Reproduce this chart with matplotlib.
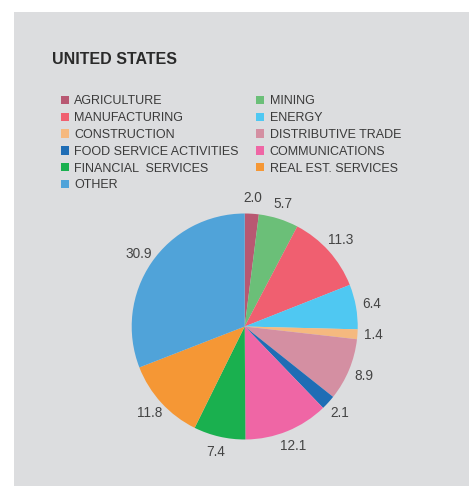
import matplotlib
matplotlib.use("Agg")
import matplotlib.pyplot as plt
from matplotlib.patches import Rectangle, Patch

plt.rcParams['font.family'] = ['Liberation Sans', 'DejaVu Sans']

# Data
sectors = ["AGRICULTURE", "MINING", "MANUFACTURING", "ENERGY", "CONSTRUCTION",
           "DISTRIBUTIVE TRADE", "FOOD SERVICE ACTIVITIES", "COMMUNICATIONS",
           "FINANCIAL  SERVICES", "REAL EST. SERVICES", "OTHER"]
shares = [2.0, 5.7, 11.3, 6.4, 1.4, 8.9, 2.1, 12.1, 7.4, 11.8, 30.9]
colors = ["#b85872", "#6bbf78", "#f05f70", "#4fc8f2", "#f5b97f",
          "#d48fa2", "#1f6db5", "#ef66a5", "#1ab04f", "#f59735", "#50a3d9"]

W, H = 469, 486
fig = plt.figure(figsize=(W / 100, H / 100), dpi=100)
fig.patch.set_facecolor("white")

# grey panel
fig.patches.append(Rectangle((14 / W, 0), 1 - 14 / W, 474 / H,
                             transform=fig.transFigure, facecolor="#dcdddf",
                             edgecolor="none", zorder=-5))

# pie axes, centre at (244.7, 326.5) px from top, radius 113 px
r = 113
cx, cy = 244.7, H - 326.5
half = 1.25 * r
ax = fig.add_axes([(cx - half) / W, (cy - half) / H, 2 * half / W, 2 * half / H])
ax.set_facecolor("none")
ax.set_zorder(2)

wedges, texts = ax.pie(shares, colors=colors, startangle=90, counterclock=False,
                       labels=[f"{s:.1f}" for s in shares], labeldistance=1.14,
                       wedgeprops=dict(linewidth=0),
                       textprops=dict(fontsize=9.8, color="#444444"))
for t in texts:
    t.set_ha("center")
    t.set_va("center")
ax.set_xlim(-1.25, 1.25)
ax.set_ylim(-1.25, 1.25)
ax.set_aspect("equal")

# title
fig.text(52 / W, (H - 59.5) / H, "UNITED STATES", fontsize=11.5, fontweight="bold",
         color="#2a2a2a", ha="left", va="center")

# legend, row-major order in two columns
order = [0, 2, 4, 6, 8, 10, 1, 3, 5, 7, 9]
handles = [Patch(facecolor=colors[i], edgecolor="none") for i in order]
labels = [sectors[i] for i in order]
fig.legend(handles, labels, ncol=2, loc="upper left",
           bbox_to_anchor=(61 / W, (H - 95.5) / H), frameon=False,
           borderpad=0, borderaxespad=0, fontsize=9, labelcolor="#3a3a3a",
           handlelength=0.65, handleheight=0.65, handletextpad=0.42,
           labelspacing=0.38, columnspacing=1.39)

fig.savefig("out.png", dpi=100)
